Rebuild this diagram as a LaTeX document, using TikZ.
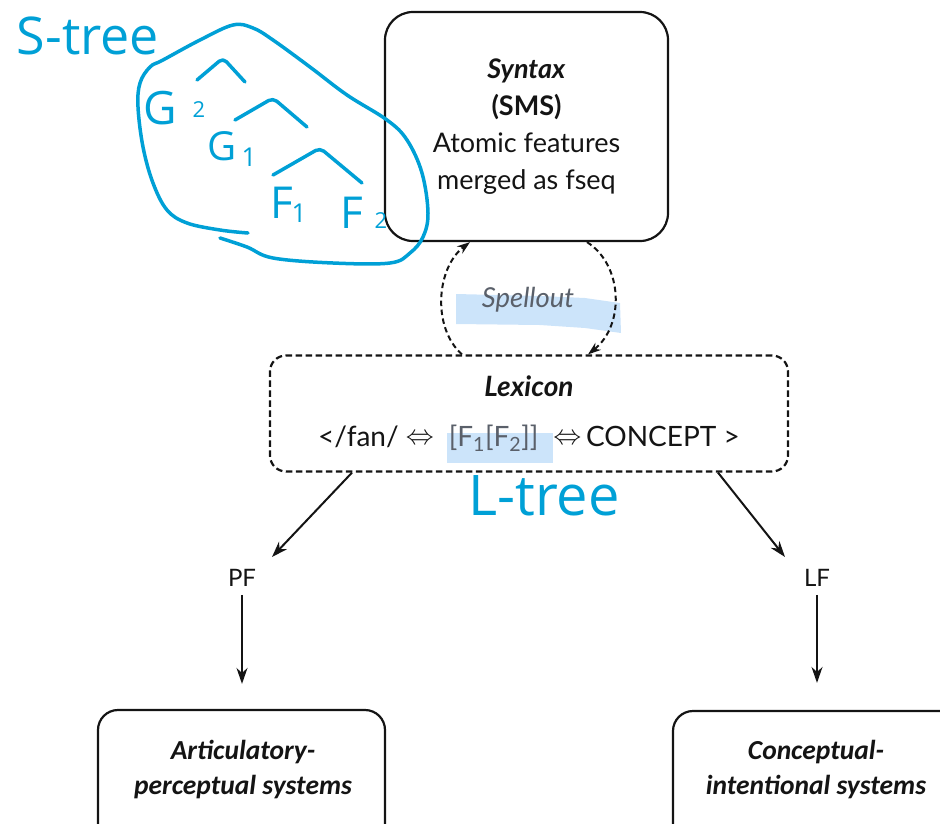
\documentclass[tikz,border=0pt]{standalone}
\usepackage{fontspec}
\setmainfont{Lato}
\newfontfamily\calfont{Carlito}
\newfontfamily\handfont{Open Sans}
\usetikzlibrary{arrows.meta,calc}
\definecolor{ink}{RGB}{20,20,20}
\definecolor{pen}{RGB}{0,160,214}
\definecolor{hilite}{RGB}{204,228,250}
\definecolor{dim}{RGB}{90,96,106}
\newcommand{\dblarrow}{\raisebox{1.5pt}{\resizebox{28pt}{!}{$\Leftrightarrow$}}}
\begin{document}
\begin{tikzpicture}[x=1pt,y=-1pt,
  solidbox/.style={draw=ink,line width=2.2pt,rounded corners=28pt,align=center,text=ink},
  dashbox/.style={draw=ink,line width=2.2pt,dash pattern=on 6.5pt off 3.5pt,rounded corners=16pt,align=center,text=ink},
  sysbox/.style={draw=ink,line width=2.2pt,rounded corners=20pt},
  systext/.style={align=center,text=ink,font=\calfont\bfseries\itshape\fontsize{27.5}{35}\selectfont},
  lvl/.style={text=ink,font=\fontsize{24}{26}\selectfont,inner sep=0pt},
  arr/.style={draw=ink,line width=2pt,-{Stealth[length=16pt,width=11pt]}},
  spell/.style={draw=ink,line width=2pt,dash pattern=on 5.5pt off 3.5pt,-{Stealth[length=13pt,width=9pt]}},
  hand/.style={text=pen,inner sep=0pt,font=\handfont},
  stroke/.style={draw=pen,line width=3.5pt,line cap=round,line join=round}]
\useasboundingbox (0,0) rectangle (940,823);
\clip (0,0) rectangle (940,823);

% highlighter marks (behind the text)
\fill[hilite] (456,294) -- (540,296) -- (585,298) -- (620,303) -- (621,333) -- (585,328) -- (540,325) -- (456,324) -- cycle;
\fill[hilite] (447,433) rectangle (553,463);

% syntax box
\node[solidbox,minimum width=283pt,minimum height=229pt,
      font=\fontsize{27}{37}\selectfont] (syn) at (526.5,126.5)
  {\textbf{\textit{Syntax}}\\\textbf{(SMS)}\\Atomic features\\merged as fseq};

% lexicon box
\node[dashbox,minimum width=518pt,minimum height=116pt,
      font=\fontsize{28}{50}\selectfont] (lex) at (529,413.5)
  {\textbf{\textit{Lexicon}}\\
   </fan/ \dblarrow\;
   {\color{dim}[F\textsubscript{1}[F\textsubscript{2}]]}\;
   \dblarrow\,CONCEPT >};

% spellout
\node[font=\itshape\fontsize{27.5}{30}\selectfont,text=dim] (spl) at (528,300) {Spellout};
\draw[spell] ([xshift=-67pt]lex.north) .. controls (432,328) and (436,268) .. ([xshift=-56.5pt]syn.south);
\draw[spell] ([xshift=60.5pt]syn.south) .. controls (623,265) and (625,325) .. ([xshift=59pt]lex.north);

% interface levels
\node[lvl] (PF) at (242,578) {PF};
\node[lvl] (LF) at (817,578) {LF};

% performance systems
\node[sysbox,minimum width=287pt,minimum height=180pt] (art) at (241.5,800) {};
\node[sysbox,minimum width=300pt,minimum height=180pt] (con) at (823,801) {};
\node[systext] (artT) at (243,769.5) {Articulatory-\\perceptual systems};
\node[systext] (conT) at (816,769.5) {Conceptual-\\intentional systems};

% connectors
\coordinate (lexL) at ([xshift=-177pt]lex.south);
\coordinate (lexR) at ([xshift=189pt]lex.south);
\draw[arr] (lexL) -- ([shift={(30,-21)}]PF.center);
\draw[arr] (lexR) -- ([shift={(-32,-21)}]LF.center);
\draw[arr,shorten <=8pt,shorten >=25pt] (PF.south) -- (PF.south |- art.north);
\draw[arr,shorten <=8pt,shorten >=27pt] (LF.south) -- (LF.south |- con.north);

% handwritten notes
\node[hand,font=\handfont\fontsize{52}{56}\selectfont] (st) at (88,36) {S-tree};
\node[hand,font=\handfont\fontsize{56}{60}\selectfont] (lt) at (544,496) {L-tree};
\node[hand,font=\handfont\fontsize{46}{50}\selectfont] (g2) at (160,108) {G};
\node[hand,font=\handfont\fontsize{22}{24}\selectfont] (g2s) at (199,110) {2};
\node[hand,font=\handfont\fontsize{40}{44}\selectfont] (g1) at (222,146) {G};
\node[hand,font=\handfont\fontsize{26}{28}\selectfont] (g1s) at (249,157) {1};
\node[hand,font=\handfont\fontsize{44}{48}\selectfont] (f1) at (282,203) {F};
\node[hand,font=\handfont\fontsize{26}{28}\selectfont] (f1s) at (299,213) {1};
\node[hand,font=\handfont\fontsize{44}{48}\selectfont] (f2) at (352,213) {F};
\node[hand,font=\handfont\fontsize{22}{24}\selectfont] (f2s) at (381,221) {2};

% tree branches
\draw[stroke,rounded corners=5pt] (197,80) -- (223,58) -- (245,82);
\draw[stroke,rounded corners=5pt] (235,120) -- (273,98) -- (307,127);
\draw[stroke,rounded corners=5pt] (273,175) -- (320,148) -- (362,183);

% lasso round the tree
\draw[stroke] plot[smooth,tension=0.6] coordinates {
  (248,233) (220,230) (187,223) (167,210) (153,183) (143,147) (138,107)
  (140,83) (150,67) (163,60) (200,40) (233,25) (253,28) (273,40) (310,67)
  (347,95) (387,120) (407,140) (422,173) (428,213) (423,237) (410,253)
  (390,263) (333,263) (273,258) (247,247) (220,238)};
\end{tikzpicture}
\end{document}
